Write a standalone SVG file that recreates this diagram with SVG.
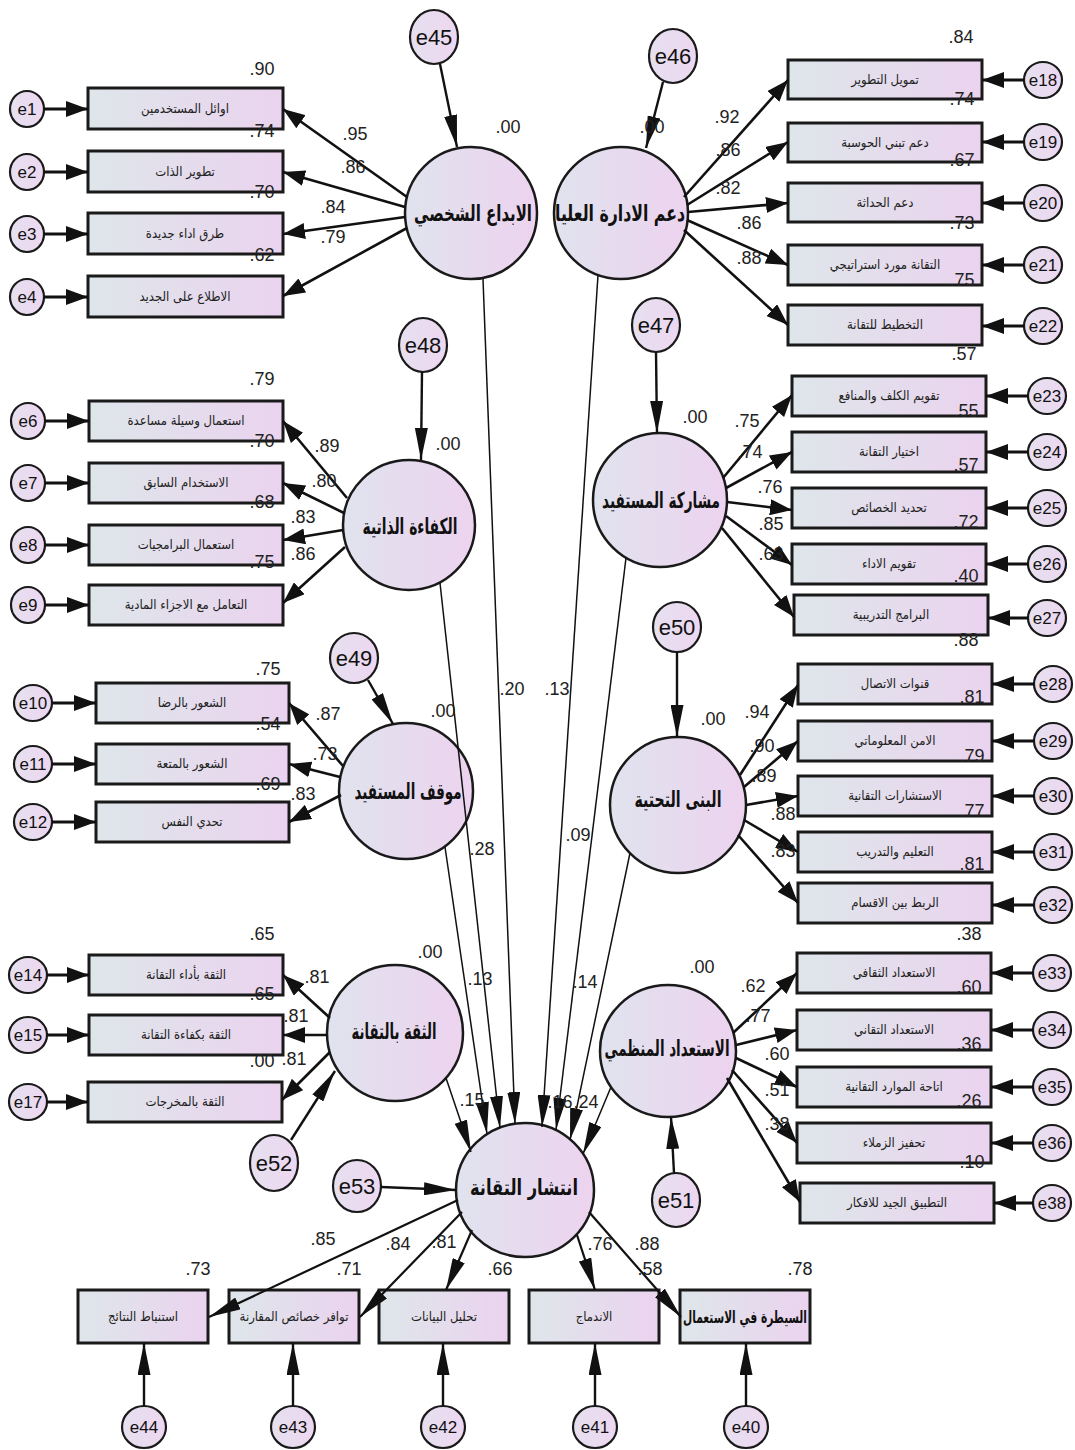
<svg xmlns="http://www.w3.org/2000/svg" width="1075" height="1450" viewBox="0 0 1075 1450">
<defs>
  <linearGradient id="gBox" x1="0" y1="0" x2="1" y2="0">
    <stop offset="0" stop-color="#dee6ea"/>
    <stop offset="1" stop-color="#ebd3ef"/>
  </linearGradient>
  <linearGradient id="gLat" x1="0" y1="0" x2="1" y2="0">
    <stop offset="0" stop-color="#e0e3ee"/>
    <stop offset="1" stop-color="#edd3ef"/>
  </linearGradient>
  <linearGradient id="gErr" x1="0" y1="0" x2="1" y2="0">
    <stop offset="0" stop-color="#e6e0f0"/>
    <stop offset="1" stop-color="#edd7f0"/>
  </linearGradient>
  <marker id="ah" markerUnits="userSpaceOnUse" markerWidth="22" markerHeight="16" refX="22" refY="8" orient="auto">
    <path d="M0,0 L22,8 L0,16 z" fill="#111"/>
  </marker>
  <marker id="ahl" markerUnits="userSpaceOnUse" markerWidth="32" markerHeight="13" refX="32" refY="6.5" orient="auto">
    <path d="M0,0 L32,6.5 L0,13 z" fill="#111"/>
  </marker>
  <style>
    .box{fill:url(#gBox);stroke:#1a1a1a;stroke-width:3}
    .lat{fill:url(#gLat);stroke:#1a1a1a;stroke-width:2.5}
    .err{fill:url(#gErr);stroke:#1a1a1a;stroke-width:2.2}
    .ld{stroke:#111;stroke-width:2.6;fill:none;marker-end:url(#ah)}
    .ldb{stroke:#111;stroke-width:2.2;fill:none;marker-end:url(#ahl)}
    .ea{stroke:#111;stroke-width:3;fill:none;marker-end:url(#ah)}
    .eb{stroke:#111;stroke-width:2.4;fill:none;marker-end:url(#ahl)}
    .pth{stroke:#111;stroke-width:1.5;fill:none;marker-end:url(#ahl)}
    .num{font-family:"Liberation Sans",Arial,sans-serif;font-size:18px;fill:#222;text-anchor:middle}
    .etx{font-family:"Liberation Sans",Arial,sans-serif;font-size:17px;fill:#111;text-anchor:middle}
    .etl{font-family:"Liberation Sans",Arial,sans-serif;font-size:22px;fill:#111;text-anchor:middle}
    .ind{font-family:"DejaVu Sans Condensed","DejaVu Sans",sans-serif;font-size:13px;fill:#222;text-anchor:middle}
    .indb{font-family:"DejaVu Sans","Noto Sans",sans-serif;font-size:17px;font-weight:bold;fill:#111;text-anchor:middle}
    .fac{font-family:"DejaVu Sans","Noto Sans",sans-serif;font-size:22px;font-weight:bold;fill:#111;text-anchor:middle}
  </style>
</defs>
<rect width="1075" height="1450" fill="#ffffff"/>

<!-- latent factors -->
<g id="F1"><ellipse class="lat" cx="471" cy="213" rx="66" ry="66"/><text class="fac" x="473" y="221" textLength="118" lengthAdjust="spacingAndGlyphs">الابداع الشخصي</text></g>
<g id="F2"><ellipse class="lat" cx="621" cy="213" rx="67" ry="66"/><text class="fac" x="620" y="221" textLength="130" lengthAdjust="spacingAndGlyphs">دعم الادارة العليا</text></g>
<g id="F3"><ellipse class="lat" cx="409" cy="525" rx="66" ry="65"/><text class="fac" x="410" y="534" textLength="95" lengthAdjust="spacingAndGlyphs">الكفاءة الذاتية</text></g>
<g id="F4"><ellipse class="lat" cx="660" cy="500" rx="67" ry="67"/><text class="fac" x="661" y="508" textLength="118" lengthAdjust="spacingAndGlyphs">مشاركة المستفيد</text></g>
<g id="F5"><ellipse class="lat" cx="406" cy="791" rx="67" ry="68"/><text class="fac" x="408" y="799" textLength="107" lengthAdjust="spacingAndGlyphs">موقف المستفيد</text></g>
<g id="F6"><ellipse class="lat" cx="678" cy="805" rx="68" ry="68"/><text class="fac" x="678" y="807" textLength="87" lengthAdjust="spacingAndGlyphs">البنى التحتية</text></g>
<g id="F7"><ellipse class="lat" cx="395" cy="1033" rx="68" ry="68"/><text class="fac" x="394" y="1039" textLength="85" lengthAdjust="spacingAndGlyphs">الثقة بالتقانة</text></g>
<g id="F8"><ellipse class="lat" cx="668" cy="1051" rx="68" ry="66"/><text class="fac" x="667" y="1056" textLength="125" lengthAdjust="spacingAndGlyphs">الاستعداد المنظمي</text></g>
<g id="F9"><ellipse class="lat" cx="525" cy="1190" rx="69" ry="67"/><text class="fac" x="524" y="1195" textLength="108" lengthAdjust="spacingAndGlyphs">انتشار التقانة</text></g>

<!-- observed indicators -->
<g id="x1"><rect class="box" x="88" y="88" width="195" height="41"/><text class="ind" x="185" y="113">اوائل المستخدمين</text></g>
<g id="x2"><rect class="box" x="88" y="151" width="195" height="41"/><text class="ind" x="185" y="176">تطوير الذات</text></g>
<g id="x3"><rect class="box" x="88" y="213" width="195" height="41"/><text class="ind" x="185" y="238">طرق اداء جديدة</text></g>
<g id="x4"><rect class="box" x="88" y="276" width="195" height="41"/><text class="ind" x="185" y="301">الاطلاع على الجديد</text></g>

<g id="x6"><rect class="box" x="89" y="401" width="194" height="40"/><text class="ind" x="186" y="425">استعمال وسيلة مساعدة</text></g>
<g id="x7"><rect class="box" x="89" y="463" width="194" height="40"/><text class="ind" x="186" y="487">الاستخدام السابق</text></g>
<g id="x8"><rect class="box" x="89" y="525" width="194" height="40"/><text class="ind" x="186" y="549">استعمال البرامجيات</text></g>
<g id="x9"><rect class="box" x="89" y="585" width="194" height="40"/><text class="ind" x="186" y="609">التعامل مع الاجزاء المادية</text></g>

<g id="x10"><rect class="box" x="96" y="683" width="193" height="40"/><text class="ind" x="192" y="707">الشعور بالرضا</text></g>
<g id="x11"><rect class="box" x="96" y="744" width="193" height="40"/><text class="ind" x="192" y="768">الشعور بالمتعة</text></g>
<g id="x12"><rect class="box" x="96" y="802" width="193" height="40"/><text class="ind" x="192" y="826">تحدي النفس</text></g>

<g id="x14"><rect class="box" x="89" y="955" width="194" height="40"/><text class="ind" x="186" y="979">الثقة بأداء التقانة</text></g>
<g id="x15"><rect class="box" x="89" y="1015" width="194" height="40"/><text class="ind" x="186" y="1039">الثقة بكفاءة التقانة</text></g>
<g id="x17"><rect class="box" x="88" y="1082" width="194" height="40"/><text class="ind" x="185" y="1106">الثقة بالمخرجات</text></g>

<g id="x18"><rect class="box" x="788" y="60" width="194" height="39"/><text class="ind" x="885" y="84">تمويل التطوير</text></g>
<g id="x19"><rect class="box" x="788" y="123" width="194" height="39"/><text class="ind" x="885" y="147">دعم تبني الحوسبة</text></g>
<g id="x20"><rect class="box" x="788" y="183" width="194" height="39"/><text class="ind" x="885" y="207">دعم الحداثة</text></g>
<g id="x21"><rect class="box" x="788" y="245" width="194" height="40"/><text class="ind" x="885" y="269">التقانة مورد استراتيجي</text></g>
<g id="x22"><rect class="box" x="788" y="305" width="194" height="40"/><text class="ind" x="885" y="329">التخطيط للتقانة</text></g>

<g id="x23"><rect class="box" x="792" y="376" width="194" height="40"/><text class="ind" x="889" y="400">تقويم الكلف والمنافع</text></g>
<g id="x24"><rect class="box" x="792" y="432" width="194" height="40"/><text class="ind" x="889" y="456">اختيار التقانة</text></g>
<g id="x25"><rect class="box" x="792" y="488" width="194" height="40"/><text class="ind" x="889" y="512">تحديد الخصائص</text></g>
<g id="x26"><rect class="box" x="792" y="544" width="194" height="40"/><text class="ind" x="889" y="568">تقويم الاداء</text></g>
<g id="x27"><rect class="box" x="794" y="595" width="194" height="40"/><text class="ind" x="891" y="619">البرامج التدريبية</text></g>

<g id="x28"><rect class="box" x="798" y="664" width="194" height="40"/><text class="ind" x="895" y="688">قنوات الاتصال</text></g>
<g id="x29"><rect class="box" x="798" y="721" width="194" height="40"/><text class="ind" x="895" y="745">الامن المعلوماتي</text></g>
<g id="x30"><rect class="box" x="798" y="776" width="194" height="40"/><text class="ind" x="895" y="800">الاستشارات التقانية</text></g>
<g id="x31"><rect class="box" x="798" y="832" width="194" height="40"/><text class="ind" x="895" y="856">التعليم والتدريب</text></g>
<g id="x32"><rect class="box" x="798" y="883" width="194" height="40"/><text class="ind" x="895" y="907">الربط بين الاقسام</text></g>

<g id="x33"><rect class="box" x="797" y="953" width="194" height="40"/><text class="ind" x="894" y="977">الاستعداد الثقافي</text></g>
<g id="x34"><rect class="box" x="797" y="1010" width="194" height="40"/><text class="ind" x="894" y="1034">الاستعداد التقاني</text></g>
<g id="x35"><rect class="box" x="797" y="1067" width="194" height="40"/><text class="ind" x="894" y="1091">اتاحة الموارد التقانية</text></g>
<g id="x36"><rect class="box" x="797" y="1123" width="194" height="40"/><text class="ind" x="894" y="1147">تحفيز الزملاء</text></g>
<g id="x38"><rect class="box" x="800" y="1183" width="194" height="40"/><text class="ind" x="897" y="1207">التطبيق الجيد للافكار</text></g>

<g id="x44"><rect class="box" x="78" y="1290" width="130" height="53"/><text class="ind" x="143" y="1321">استنباط النتائج</text></g>
<g id="x43"><rect class="box" x="229" y="1290" width="130" height="53"/><text class="ind" x="294" y="1321">توافر خصائص المقارنة</text></g>
<g id="x42"><rect class="box" x="379" y="1290" width="130" height="53"/><text class="ind" x="444" y="1321">تحليل البيانات</text></g>
<g id="x41"><rect class="box" x="529" y="1290" width="130" height="53"/><text class="ind" x="594" y="1321">الاندماج</text></g>
<g id="x40"><rect class="box" x="680" y="1290" width="130" height="53"/><text class="indb" x="745" y="1323" textLength="124" lengthAdjust="spacingAndGlyphs">السيطرة في الاستعمال</text></g>

<!-- error terms -->
<g id="e1"><ellipse class="err" cx="27" cy="109" rx="17" ry="18"/><text class="etx" x="27" y="115">e1</text></g>
<g id="e2"><ellipse class="err" cx="27" cy="172" rx="17" ry="18"/><text class="etx" x="27" y="178">e2</text></g>
<g id="e3"><ellipse class="err" cx="27" cy="234" rx="17" ry="18"/><text class="etx" x="27" y="240">e3</text></g>
<g id="e4"><ellipse class="err" cx="27" cy="297" rx="17" ry="18"/><text class="etx" x="27" y="303">e4</text></g>
<g id="e6"><ellipse class="err" cx="28" cy="421" rx="17" ry="18"/><text class="etx" x="28" y="427">e6</text></g>
<g id="e7"><ellipse class="err" cx="28" cy="483" rx="17" ry="18"/><text class="etx" x="28" y="489">e7</text></g>
<g id="e8"><ellipse class="err" cx="28" cy="545" rx="17" ry="18"/><text class="etx" x="28" y="551">e8</text></g>
<g id="e9"><ellipse class="err" cx="28" cy="605" rx="17" ry="18"/><text class="etx" x="28" y="611">e9</text></g>
<g id="e10"><ellipse class="err" cx="33" cy="703" rx="19" ry="18"/><text class="etx" x="33" y="709">e10</text></g>
<g id="e11"><ellipse class="err" cx="33" cy="764" rx="19" ry="18"/><text class="etx" x="33" y="770">e11</text></g>
<g id="e12"><ellipse class="err" cx="33" cy="822" rx="19" ry="18"/><text class="etx" x="33" y="828">e12</text></g>
<g id="e14"><ellipse class="err" cx="28" cy="975" rx="19" ry="18"/><text class="etx" x="28" y="981">e14</text></g>
<g id="e15"><ellipse class="err" cx="28" cy="1035" rx="19" ry="18"/><text class="etx" x="28" y="1041">e15</text></g>
<g id="e17"><ellipse class="err" cx="28" cy="1102" rx="19" ry="18"/><text class="etx" x="28" y="1108">e17</text></g>

<g id="e18"><ellipse class="err" cx="1043" cy="80" rx="19" ry="18"/><text class="etx" x="1043" y="86">e18</text></g>
<g id="e19"><ellipse class="err" cx="1043" cy="142" rx="19" ry="18"/><text class="etx" x="1043" y="148">e19</text></g>
<g id="e20"><ellipse class="err" cx="1043" cy="203" rx="19" ry="18"/><text class="etx" x="1043" y="209">e20</text></g>
<g id="e21"><ellipse class="err" cx="1043" cy="265" rx="19" ry="18"/><text class="etx" x="1043" y="271">e21</text></g>
<g id="e22"><ellipse class="err" cx="1043" cy="326" rx="19" ry="18"/><text class="etx" x="1043" y="332">e22</text></g>
<g id="e23"><ellipse class="err" cx="1047" cy="396" rx="19" ry="18"/><text class="etx" x="1047" y="402">e23</text></g>
<g id="e24"><ellipse class="err" cx="1047" cy="452" rx="19" ry="18"/><text class="etx" x="1047" y="458">e24</text></g>
<g id="e25"><ellipse class="err" cx="1047" cy="508" rx="19" ry="18"/><text class="etx" x="1047" y="514">e25</text></g>
<g id="e26"><ellipse class="err" cx="1047" cy="564" rx="19" ry="18"/><text class="etx" x="1047" y="570">e26</text></g>
<g id="e27"><ellipse class="err" cx="1047" cy="618" rx="19" ry="18"/><text class="etx" x="1047" y="624">e27</text></g>
<g id="e28"><ellipse class="err" cx="1053" cy="684" rx="19" ry="18"/><text class="etx" x="1053" y="690">e28</text></g>
<g id="e29"><ellipse class="err" cx="1053" cy="741" rx="19" ry="18"/><text class="etx" x="1053" y="747">e29</text></g>
<g id="e30"><ellipse class="err" cx="1053" cy="796" rx="19" ry="18"/><text class="etx" x="1053" y="802">e30</text></g>
<g id="e31"><ellipse class="err" cx="1053" cy="852" rx="19" ry="18"/><text class="etx" x="1053" y="858">e31</text></g>
<g id="e32"><ellipse class="err" cx="1053" cy="905" rx="19" ry="18"/><text class="etx" x="1053" y="911">e32</text></g>
<g id="e33"><ellipse class="err" cx="1052" cy="973" rx="19" ry="18"/><text class="etx" x="1052" y="979">e33</text></g>
<g id="e34"><ellipse class="err" cx="1052" cy="1030" rx="19" ry="18"/><text class="etx" x="1052" y="1036">e34</text></g>
<g id="e35"><ellipse class="err" cx="1052" cy="1087" rx="19" ry="18"/><text class="etx" x="1052" y="1093">e35</text></g>
<g id="e36"><ellipse class="err" cx="1052" cy="1143" rx="19" ry="18"/><text class="etx" x="1052" y="1149">e36</text></g>
<g id="e38"><ellipse class="err" cx="1052" cy="1203" rx="19" ry="18"/><text class="etx" x="1052" y="1209">e38</text></g>

<g id="e45"><ellipse class="err" cx="434" cy="37" rx="24" ry="27"/><text class="etl" x="434" y="45">e45</text></g>
<g id="e46"><ellipse class="err" cx="673" cy="56" rx="24" ry="27"/><text class="etl" x="673" y="64">e46</text></g>
<g id="e47"><ellipse class="err" cx="656" cy="325" rx="24" ry="27"/><text class="etl" x="656" y="333">e47</text></g>
<g id="e48"><ellipse class="err" cx="423" cy="345" rx="24" ry="27"/><text class="etl" x="423" y="353">e48</text></g>
<g id="e49"><ellipse class="err" cx="354" cy="658" rx="24" ry="25"/><text class="etl" x="354" y="666">e49</text></g>
<g id="e50"><ellipse class="err" cx="677" cy="627" rx="24" ry="25"/><text class="etl" x="677" y="635">e50</text></g>
<g id="e51"><ellipse class="err" cx="676" cy="1200" rx="24" ry="27"/><text class="etl" x="676" y="1208">e51</text></g>
<g id="e52"><ellipse class="err" cx="274" cy="1163" rx="24" ry="28"/><text class="etl" x="274" y="1171">e52</text></g>
<g id="e53"><ellipse class="err" cx="357" cy="1186" rx="24" ry="26"/><text class="etl" x="357" y="1194">e53</text></g>
<g id="e44"><ellipse class="err" cx="144" cy="1427" rx="22" ry="21"/><text class="etx" x="144" y="1433">e44</text></g>
<g id="e43"><ellipse class="err" cx="293" cy="1427" rx="22" ry="21"/><text class="etx" x="293" y="1433">e43</text></g>
<g id="e42"><ellipse class="err" cx="443" cy="1427" rx="22" ry="21"/><text class="etx" x="443" y="1433">e42</text></g>
<g id="e41"><ellipse class="err" cx="595" cy="1427" rx="22" ry="21"/><text class="etx" x="595" y="1433">e41</text></g>
<g id="e40"><ellipse class="err" cx="746" cy="1427" rx="22" ry="21"/><text class="etx" x="746" y="1433">e40</text></g>

<!-- connectors -->
<g id="connectors">
  <!-- error terms to indicators, left side -->
  <line class="ea" x1="44" y1="109" x2="88" y2="109"/>
  <line class="ea" x1="44" y1="172" x2="88" y2="172"/>
  <line class="ea" x1="44" y1="234" x2="88" y2="234"/>
  <line class="ea" x1="44" y1="297" x2="88" y2="297"/>
  <line class="ea" x1="45" y1="421" x2="89" y2="421"/>
  <line class="ea" x1="45" y1="483" x2="89" y2="483"/>
  <line class="ea" x1="45" y1="545" x2="89" y2="545"/>
  <line class="ea" x1="45" y1="605" x2="89" y2="605"/>
  <line class="ea" x1="52" y1="703" x2="96" y2="703"/>
  <line class="ea" x1="52" y1="764" x2="96" y2="764"/>
  <line class="ea" x1="52" y1="822" x2="96" y2="822"/>
  <line class="ea" x1="47" y1="975" x2="89" y2="975"/>
  <line class="ea" x1="47" y1="1035" x2="89" y2="1035"/>
  <line class="ea" x1="47" y1="1102" x2="88" y2="1102"/>
  <!-- error terms to indicators, right side -->
  <line class="ea" x1="1024" y1="80" x2="982" y2="80"/>
  <line class="ea" x1="1024" y1="142" x2="982" y2="142"/>
  <line class="ea" x1="1024" y1="203" x2="982" y2="203"/>
  <line class="ea" x1="1024" y1="265" x2="982" y2="265"/>
  <line class="ea" x1="1024" y1="326" x2="982" y2="326"/>
  <line class="ea" x1="1028" y1="396" x2="986" y2="396"/>
  <line class="ea" x1="1028" y1="452" x2="986" y2="452"/>
  <line class="ea" x1="1028" y1="508" x2="986" y2="508"/>
  <line class="ea" x1="1028" y1="564" x2="986" y2="564"/>
  <line class="ea" x1="1028" y1="618" x2="988" y2="618"/>
  <line class="ea" x1="1034" y1="684" x2="992" y2="684"/>
  <line class="ea" x1="1034" y1="741" x2="992" y2="741"/>
  <line class="ea" x1="1034" y1="796" x2="992" y2="796"/>
  <line class="ea" x1="1034" y1="852" x2="992" y2="852"/>
  <line class="ea" x1="1034" y1="905" x2="992" y2="905"/>
  <line class="ea" x1="1033" y1="973" x2="991" y2="973"/>
  <line class="ea" x1="1033" y1="1030" x2="991" y2="1030"/>
  <line class="ea" x1="1033" y1="1087" x2="991" y2="1087"/>
  <line class="ea" x1="1033" y1="1143" x2="991" y2="1143"/>
  <line class="ea" x1="1033" y1="1203" x2="994" y2="1203"/>
  <!-- error terms below the outcome indicators -->
  <line class="eb" x1="144" y1="1406" x2="144" y2="1343"/>
  <line class="eb" x1="293" y1="1406" x2="293" y2="1343"/>
  <line class="eb" x1="443" y1="1406" x2="443" y2="1343"/>
  <line class="eb" x1="595" y1="1406" x2="595" y2="1343"/>
  <line class="eb" x1="746" y1="1406" x2="746" y2="1343"/>
  <!-- disturbances to latent factors -->
  <line class="eb" x1="440" y1="64" x2="457" y2="147"/>
  <line class="eb" x1="663" y1="82" x2="646" y2="148"/>
  <line class="eb" x1="656" y1="352" x2="657" y2="433"/>
  <line class="eb" x1="422" y1="372" x2="421" y2="460"/>
  <line class="eb" x1="368" y1="680" x2="393" y2="724"/>
  <line class="eb" x1="677" y1="652" x2="677" y2="737"/>
  <line class="eb" x1="674" y1="1173" x2="671" y2="1117"/>
  <line class="eb" x1="291" y1="1140" x2="335" y2="1071"/>
  <line class="eb" x1="381" y1="1187" x2="456" y2="1190"/>
  <!-- loadings: personal creativity -->
  <line class="ld" x1="407" y1="197" x2="283" y2="109"/>
  <line class="ld" x1="405" y1="207" x2="283" y2="172"/>
  <line class="ld" x1="405" y1="217" x2="283" y2="234"/>
  <line class="ld" x1="407" y1="228" x2="283" y2="296"/>
  <!-- loadings: top management support -->
  <line class="ld" x1="684" y1="197" x2="788" y2="80"/>
  <line class="ld" x1="687" y1="205" x2="788" y2="142"/>
  <line class="ld" x1="688" y1="212" x2="788" y2="203"/>
  <line class="ld" x1="687" y1="220" x2="788" y2="265"/>
  <line class="ld" x1="684" y1="230" x2="788" y2="325"/>
  <!-- loadings: self efficacy -->
  <line class="ld" x1="347" y1="498" x2="283" y2="421"/>
  <line class="ld" x1="344" y1="513" x2="283" y2="483"/>
  <line class="ld" x1="343" y1="530" x2="283" y2="540"/>
  <line class="ld" x1="345" y1="547" x2="283" y2="603"/>
  <!-- loadings: user participation -->
  <line class="ld" x1="723" y1="478" x2="792" y2="395"/>
  <line class="ld" x1="726" y1="488" x2="792" y2="452"/>
  <line class="ld" x1="727" y1="502" x2="792" y2="510"/>
  <line class="ld" x1="726" y1="516" x2="792" y2="565"/>
  <line class="ld" x1="722" y1="528" x2="794" y2="617"/>
  <!-- loadings: user attitude -->
  <line class="ld" x1="343" y1="766" x2="289" y2="703"/>
  <line class="ld" x1="340" y1="777" x2="289" y2="764"/>
  <line class="ld" x1="341" y1="795" x2="289" y2="822"/>
  <!-- loadings: infrastructure -->
  <line class="ld" x1="740" y1="775" x2="798" y2="685"/>
  <line class="ld" x1="744" y1="787" x2="798" y2="741"/>
  <line class="ld" x1="746" y1="805" x2="798" y2="796"/>
  <line class="ld" x1="744" y1="820" x2="798" y2="852"/>
  <line class="ld" x1="738" y1="835" x2="798" y2="903"/>
  <!-- loadings: trust in technology -->
  <line class="ld" x1="330" y1="1018" x2="283" y2="975"/>
  <line class="ld" x1="327" y1="1035" x2="283" y2="1035"/>
  <line class="ld" x1="330" y1="1052" x2="282" y2="1100"/>
  <!-- loadings: organisational readiness -->
  <line class="ld" x1="733" y1="1033" x2="797" y2="973"/>
  <line class="ld" x1="736" y1="1045" x2="797" y2="1030"/>
  <line class="ld" x1="736" y1="1058" x2="797" y2="1087"/>
  <line class="ld" x1="732" y1="1070" x2="797" y2="1143"/>
  <line class="ld" x1="727" y1="1078" x2="800" y2="1202"/>
  <!-- loadings: technology diffusion -->
  <line class="ldb" x1="458" y1="1200" x2="209" y2="1317"/>
  <line class="ldb" x1="462" y1="1212" x2="360" y2="1317"/>
  <line class="ldb" x1="472" y1="1230" x2="446" y2="1290"/>
  <line class="ldb" x1="577" y1="1235" x2="595" y2="1290"/>
  <line class="ldb" x1="589" y1="1212" x2="681" y2="1317"/>
  <!-- structural paths into technology diffusion -->
  <line class="pth" x1="483" y1="279" x2="515" y2="1124"/>
  <line class="pth" x1="598" y1="275" x2="542" y2="1127"/>
  <line class="pth" x1="440" y1="583" x2="500" y2="1128"/>
  <line class="pth" x1="626" y1="558" x2="556" y2="1130"/>
  <line class="pth" x1="445" y1="847" x2="487" y2="1134"/>
  <line class="pth" x1="630" y1="853" x2="570" y2="1140"/>
  <line class="pth" x1="446" y1="1078" x2="471" y2="1152"/>
  <line class="pth" x1="611" y1="1087" x2="583" y2="1154"/>
</g>

<!-- estimates -->
<g id="estimates">
  <text class="num" x="262" y="75">.90</text>
  <text class="num" x="262" y="137">.74</text>
  <text class="num" x="262" y="198">.70</text>
  <text class="num" x="262" y="261">.62</text>
  <text class="num" x="355" y="140">.95</text>
  <text class="num" x="353" y="173">.86</text>
  <text class="num" x="333" y="213">.84</text>
  <text class="num" x="333" y="243">.79</text>
  <text class="num" x="508" y="133">.00</text>
  <text class="num" x="652" y="133">.00</text>

  <text class="num" x="961" y="43">.84</text>
  <text class="num" x="962" y="105">.74</text>
  <text class="num" x="962" y="166">.67</text>
  <text class="num" x="962" y="229">.73</text>
  <text class="num" x="962" y="286">.75</text>
  <text class="num" x="727" y="123">.92</text>
  <text class="num" x="728" y="156">.86</text>
  <text class="num" x="728" y="194">.82</text>
  <text class="num" x="749" y="229">.86</text>
  <text class="num" x="749" y="264">.88</text>

  <text class="num" x="262" y="385">.79</text>
  <text class="num" x="262" y="447">.70</text>
  <text class="num" x="262" y="508">.68</text>
  <text class="num" x="262" y="568">.75</text>
  <text class="num" x="327" y="452">.89</text>
  <text class="num" x="324" y="487">.80</text>
  <text class="num" x="303" y="523">.83</text>
  <text class="num" x="303" y="560">.86</text>
  <text class="num" x="448" y="450">.00</text>

  <text class="num" x="964" y="360">.57</text>
  <text class="num" x="966" y="417">.55</text>
  <text class="num" x="966" y="471">.57</text>
  <text class="num" x="966" y="528">.72</text>
  <text class="num" x="966" y="582">.40</text>
  <text class="num" x="966" y="646">.88</text>
  <text class="num" x="747" y="427">.75</text>
  <text class="num" x="750" y="458">.74</text>
  <text class="num" x="770" y="493">.76</text>
  <text class="num" x="771" y="530">.85</text>
  <text class="num" x="771" y="560">.63</text>
  <text class="num" x="695" y="423">.00</text>

  <text class="num" x="268" y="675">.75</text>
  <text class="num" x="268" y="730">.54</text>
  <text class="num" x="268" y="790">.69</text>
  <text class="num" x="328" y="720">.87</text>
  <text class="num" x="325" y="760">.73</text>
  <text class="num" x="303" y="800">.83</text>
  <text class="num" x="443" y="717">.00</text>

  <text class="num" x="972" y="703">.81</text>
  <text class="num" x="972" y="762">.79</text>
  <text class="num" x="972" y="817">.77</text>
  <text class="num" x="972" y="870">.81</text>
  <text class="num" x="757" y="718">.94</text>
  <text class="num" x="762" y="752">.90</text>
  <text class="num" x="764" y="782">.89</text>
  <text class="num" x="783" y="820">.88</text>
  <text class="num" x="783" y="857">.83</text>
  <text class="num" x="713" y="725">.00</text>

  <text class="num" x="512" y="695">.20</text>
  <text class="num" x="557" y="695">.13</text>
  <text class="num" x="482" y="855">.28</text>
  <text class="num" x="578" y="841">.09</text>
  <text class="num" x="480" y="985">.13</text>
  <text class="num" x="585" y="988">.14</text>
  <text class="num" x="472" y="1106">.15</text>
  <text class="num" x="560" y="1108">.16</text>
  <text class="num" x="586" y="1108">.24</text>

  <text class="num" x="262" y="940">.65</text>
  <text class="num" x="262" y="1000">.65</text>
  <text class="num" x="262" y="1067">.00</text>
  <text class="num" x="317" y="983">.81</text>
  <text class="num" x="296" y="1022">.81</text>
  <text class="num" x="294" y="1065">.81</text>
  <text class="num" x="430" y="958">.00</text>

  <text class="num" x="969" y="940">.38</text>
  <text class="num" x="969" y="993">.60</text>
  <text class="num" x="969" y="1050">.36</text>
  <text class="num" x="969" y="1107">.26</text>
  <text class="num" x="972" y="1168">.10</text>
  <text class="num" x="753" y="992">.62</text>
  <text class="num" x="758" y="1022">.77</text>
  <text class="num" x="777" y="1060">.60</text>
  <text class="num" x="777" y="1096">.51</text>
  <text class="num" x="777" y="1130">.38</text>
  <text class="num" x="702" y="973">.00</text>

  <text class="num" x="323" y="1245">.85</text>
  <text class="num" x="398" y="1250">.84</text>
  <text class="num" x="444" y="1248">.81</text>
  <text class="num" x="198" y="1275">.73</text>
  <text class="num" x="349" y="1275">.71</text>
  <text class="num" x="500" y="1275">.66</text>
  <text class="num" x="600" y="1250">.76</text>
  <text class="num" x="647" y="1250">.88</text>
  <text class="num" x="650" y="1275">.58</text>
  <text class="num" x="800" y="1275">.78</text>
</g>
</svg>
